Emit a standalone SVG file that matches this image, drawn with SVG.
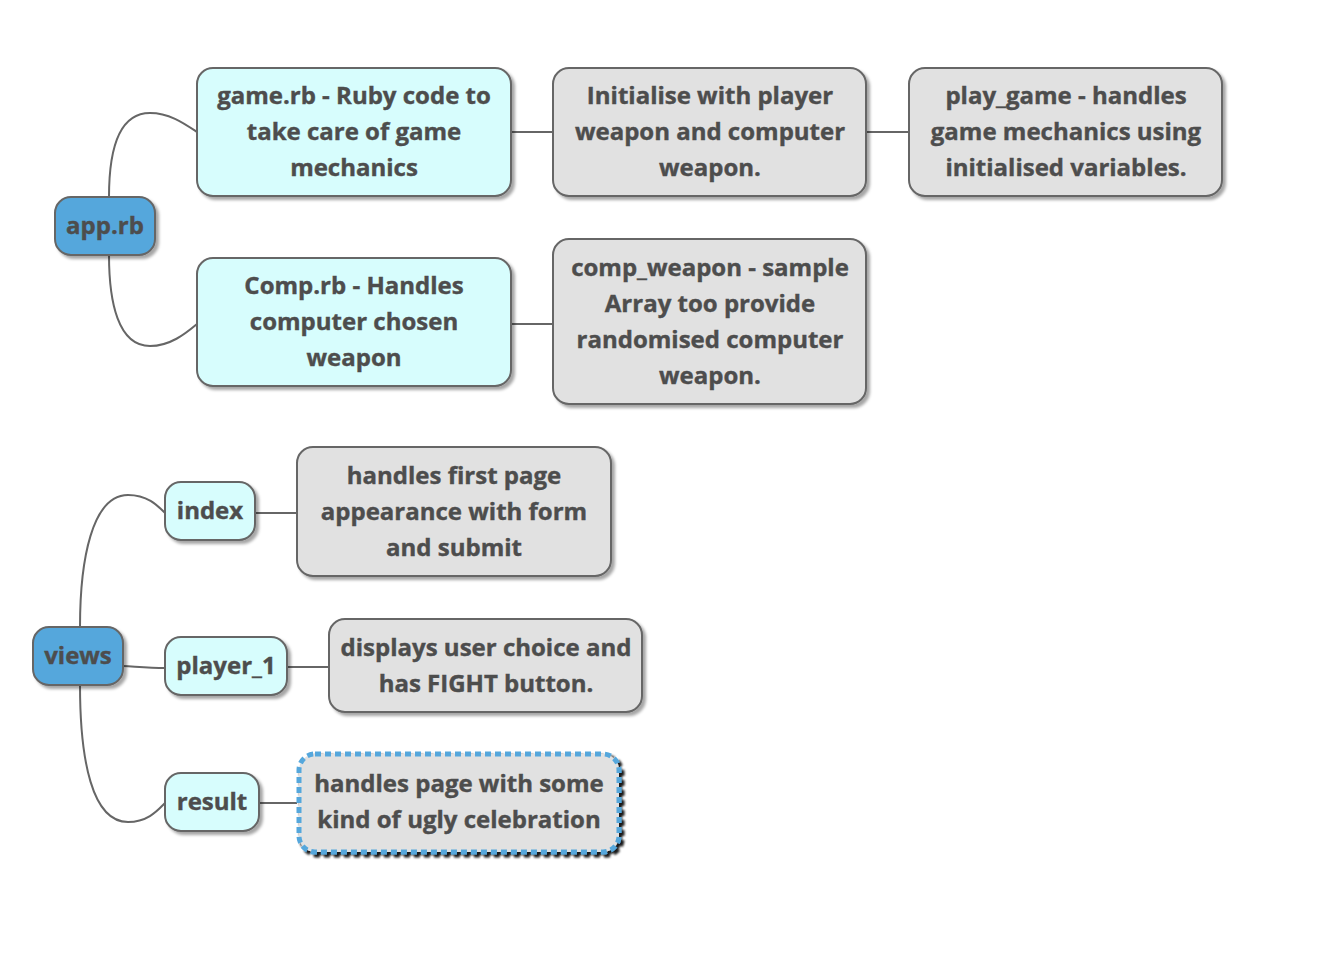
<svg xmlns="http://www.w3.org/2000/svg" width="1326" height="958" viewBox="0 0 1326 958">
<defs>
<filter id="sh" x="-10%" y="-10%" width="125%" height="130%">
<feDropShadow dx="3" dy="3" stdDeviation="1.5" flood-color="#000" flood-opacity="0.35"/>
</filter>
<filter id="shd" x="-10%" y="-10%" width="125%" height="130%">
<feDropShadow dx="3" dy="3" stdDeviation="1" flood-color="#000" flood-opacity="0.9"/>
</filter>
</defs>
<style>
.root{fill:#55a7dc;stroke:#666;stroke-width:2;filter:url(#sh)}
.sub{fill:#d7fdfd;stroke:#666;stroke-width:2;filter:url(#sh)}
.leaf{fill:#e1e1e1;stroke:#666;stroke-width:2;filter:url(#sh)}
.dash{fill:#e1e1e1;stroke:#55a7dc;stroke-width:5;stroke-dasharray:6 4;filter:url(#shd)}
text{font-family:"Open Sans","Noto Sans","DejaVu Sans",sans-serif;font-weight:700;font-size:24px;fill:#4d4d4d;stroke:#4d4d4d;stroke-width:0.4;text-anchor:middle}
.c{fill:none;stroke:#666;stroke-width:2}
</style>
<rect width="1326" height="958" fill="#fff"/>
<g id="connectors">
<path class="c" d="M109,197 C109,150 118,113 150,113 C170,113 185,124 197,132"/>
<path class="c" d="M109,255 C109,302 118,346 150,346 C170,346 185,334 197,324"/>
<path class="c" d="M511,132 H553"/>
<path class="c" d="M866,132 H909"/>
<path class="c" d="M511,324 H553"/>
<path class="c" d="M80,627 C80,560 92,495 128,495 C148,495 158,506 165,513"/>
<path class="c" d="M123,666 C140,667 150,668 165,668"/>
<path class="c" d="M80,685 C80,760 92,822 128,822 C148,822 158,810 165,803"/>
<path class="c" d="M255,513 H297"/>
<path class="c" d="M287,667 H329"/>
<path class="c" d="M259,803 H297"/>
</g>
<g id="app_rb">
<rect class="root" x="55" y="197" width="100" height="58" rx="16"/>
<text x="105" y="234">app.rb</text>
</g>
<g id="game_rb">
<rect class="sub" x="197" y="68" width="314" height="128" rx="16"/>
<text x="354" y="104">game.rb - Ruby code to</text>
<text x="354" y="140">take care of game</text>
<text x="354" y="176">mechanics</text>
</g>
<g id="initialise">
<rect class="leaf" x="553" y="68" width="313" height="128" rx="16"/>
<text x="710" y="104">Initialise with player</text>
<text x="710" y="140">weapon and computer</text>
<text x="710" y="176">weapon.</text>
</g>
<g id="play_game">
<rect class="leaf" x="909" y="68" width="313" height="128" rx="16"/>
<text x="1066" y="104">play_game - handles</text>
<text x="1066" y="140">game mechanics using</text>
<text x="1066" y="176">initialised variables.</text>
</g>
<g id="comp_rb">
<rect class="sub" x="197" y="258" width="314" height="128" rx="16"/>
<text x="354" y="294">Comp.rb - Handles</text>
<text x="354" y="330">computer chosen</text>
<text x="354" y="366">weapon</text>
</g>
<g id="comp_weapon">
<rect class="leaf" x="553" y="239" width="313" height="165" rx="16"/>
<text x="710" y="276">comp_weapon - sample</text>
<text x="710" y="312">Array too provide</text>
<text x="710" y="348">randomised computer</text>
<text x="710" y="384">weapon.</text>
</g>
<g id="views">
<rect class="root" x="33" y="627" width="90" height="58" rx="16"/>
<text x="78" y="664">views</text>
</g>
<g id="index">
<rect class="sub" x="165" y="482" width="90" height="58" rx="16"/>
<text x="210" y="519">index</text>
</g>
<g id="index_desc">
<rect class="leaf" x="297" y="447" width="314" height="129" rx="16"/>
<text x="454" y="484">handles first page</text>
<text x="454" y="520">appearance with form</text>
<text x="454" y="556">and submit</text>
</g>
<g id="player_1">
<rect class="sub" x="165" y="637" width="122" height="58" rx="16"/>
<text x="226" y="674">player_1</text>
</g>
<g id="player_1_desc">
<rect class="leaf" x="329" y="619" width="313" height="93" rx="16"/>
<text x="486" y="656">displays user choice and</text>
<text x="486" y="692">has FIGHT button.</text>
</g>
<g id="result">
<rect class="sub" x="165" y="773" width="94" height="58" rx="16"/>
<text x="212" y="810">result</text>
</g>
<g id="result_desc">
<rect class="dash" x="299" y="754" width="320" height="98" rx="16"/>
<text x="459" y="792">handles page with some</text>
<text x="459" y="828">kind of ugly celebration</text>
</g>
</svg>
